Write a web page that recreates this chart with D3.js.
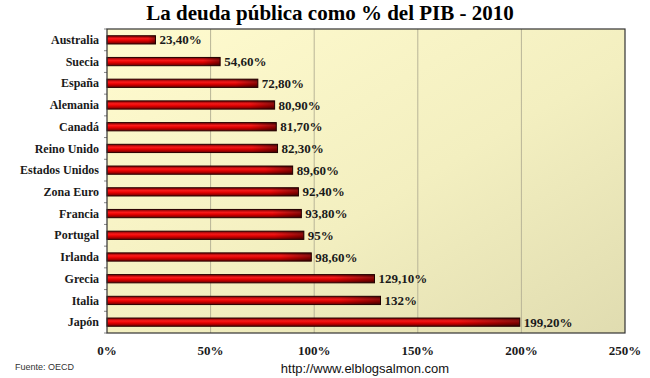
<!DOCTYPE html>
<meta charset="utf-8">
<style>
  body { margin: 0; background: #fff; }
  .serif { font-family: "Liberation Serif", "DejaVu Serif", serif; font-weight: bold; }
</style>
<body>
<div id="chart"></div>
<script src="https://d3js.org/d3.v7.min.js"></script>
<script>
  const countries = ["Australia", "Suecia", "España", "Alemania", "Canadá", "Reino Unido",
    "Estados Unidos", "Zona Euro", "Francia", "Portugal", "Irlanda", "Grecia", "Italia", "Japón"];
  const debt = [23.4, 54.6, 72.8, 80.9, 81.7, 82.3, 89.6, 92.4, 93.8, 95, 98.6, 129.1, 132, 199.2];
  const debtLabels = ["23,40%", "54,60%", "72,80%", "80,90%", "81,70%", "82,30%", "89,60%",
    "92,40%", "93,80%", "95%", "98,60%", "129,10%", "132%", "199,20%"];
  const ticks = [0, 50, 100, 150, 200, 250];

  const width = 650, height = 378;
  const plotL = 107, plotR = 625, plotT = 29, plotB = 333;

  const svg = d3.select("#chart").append("svg")
    .attr("width", width)
    .attr("height", height);

  const defs = svg.append("defs");

  // plot background: pale yellow fading to olive at bottom right
  const bg = defs.append("linearGradient").attr("id", "bg")
    .attr("x1", "0").attr("y1", "0").attr("x2", "1").attr("y2", "1");
  bg.append("stop").attr("offset", "0%").attr("stop-color", "#fffbcf");
  bg.append("stop").attr("offset", "55%").attr("stop-color", "#f3efc0");
  bg.append("stop").attr("offset", "100%").attr("stop-color", "#e0dcb0");

  // bar: dark red edges, bright red middle
  const barG = defs.append("linearGradient").attr("id", "bar")
    .attr("x1", "0").attr("y1", "0").attr("x2", "0").attr("y2", "1");
  barG.append("stop").attr("offset", "0%").attr("stop-color", "#7a0000");
  barG.append("stop").attr("offset", "35%").attr("stop-color", "#ff1a1a");
  barG.append("stop").attr("offset", "60%").attr("stop-color", "#e60000");
  barG.append("stop").attr("offset", "100%").attr("stop-color", "#6a0000");

  // darker right tip
  const tip = defs.append("linearGradient").attr("id", "tip")
    .attr("x1", "0").attr("y1", "0").attr("x2", "1").attr("y2", "0");
  tip.append("stop").attr("offset", "0%").attr("stop-color", "#000").attr("stop-opacity", 0);
  tip.append("stop").attr("offset", "85%").attr("stop-color", "#000").attr("stop-opacity", 0.05);
  tip.append("stop").attr("offset", "100%").attr("stop-color", "#000").attr("stop-opacity", 0.45);

  const x = d3.scaleLinear().domain([0, 250]).range([plotL, plotR]);
  const y = d3.scaleBand().domain(countries).range([plotT, plotB]).paddingInner(0.62).paddingOuter(0.31);

  // title
  svg.append("text")
    .attr("class", "serif")
    .attr("x", 330).attr("y", 20)
    .attr("text-anchor", "middle")
    .style("font-size", "21px")
    .text("La deuda pública como % del PIB - 2010");

  svg.append("rect")
    .attr("x", plotL).attr("y", plotT)
    .attr("width", plotR - plotL).attr("height", plotB - plotT)
    .attr("fill", "url(#bg)");

  // gridlines
  svg.selectAll("line.grid")
    .data(ticks.slice(1, -1))
    .join("line")
    .attr("class", "grid")
    .attr("x1", d => x(d)).attr("x2", d => x(d))
    .attr("y1", plotT).attr("y2", plotB)
    .attr("stroke", "#b8b497")
    .attr("stroke-width", 1);

  // bars
  const bars = svg.selectAll("g.bar")
    .data(countries)
    .join("g")
    .attr("class", "bar");

  bars.append("rect")
    .attr("x", x(0))
    .attr("y", d => y(d))
    .attr("width", (d, i) => x(debt[i]) - x(0))
    .attr("height", y.bandwidth())
    .attr("fill", "url(#bar)")
    .attr("stroke", "#2a0000")
    .attr("stroke-width", 1);

  bars.append("rect")
    .attr("x", x(0))
    .attr("y", d => y(d))
    .attr("width", (d, i) => x(debt[i]) - x(0))
    .attr("height", y.bandwidth())
    .attr("fill", "url(#tip)");

  bars.append("text")
    .attr("class", "serif")
    .attr("x", (d, i) => x(debt[i]) + 4)
    .attr("y", d => y(d) + y.bandwidth() / 2)
    .attr("dy", "0.35em")
    .style("font-size", "13px")
    .attr("fill", "#1a1a1a")
    .text((d, i) => debtLabels[i]);

  // category labels
  svg.selectAll("text.cat")
    .data(countries)
    .join("text")
    .attr("class", "cat serif")
    .attr("x", plotL - 8)
    .attr("y", d => y(d) + y.bandwidth() / 2)
    .attr("dy", "0.35em")
    .attr("text-anchor", "end")
    .style("font-size", "12px")
    .attr("fill", "#1a1a1a")
    .text(d => d);

  // small category ticks on the left axis
  const step = (plotB - plotT) / countries.length;
  svg.selectAll("line.ytick")
    .data(d3.range(countries.length + 1))
    .join("line")
    .attr("class", "ytick")
    .attr("x1", plotL - 3).attr("x2", plotL)
    .attr("y1", d => plotT + d * step).attr("y2", d => plotT + d * step)
    .attr("stroke", "#888");

  // plot border
  svg.append("rect")
    .attr("x", plotL).attr("y", plotT)
    .attr("width", plotR - plotL).attr("height", plotB - plotT)
    .attr("fill", "none")
    .attr("stroke", "#333")
    .attr("stroke-width", 1.2);

  // x tick labels
  svg.selectAll("text.xtick")
    .data(ticks)
    .join("text")
    .attr("class", "xtick serif")
    .attr("x", d => x(d))
    .attr("y", 355)
    .attr("text-anchor", "middle")
    .style("font-size", "13px")
    .attr("fill", "#1a1a1a")
    .text(d => d + "%");

  svg.append("text")
    .attr("x", 15).attr("y", 370)
    .style("font-family", "'Liberation Sans', Arial, sans-serif")
    .style("font-size", "9px")
    .attr("fill", "#333")
    .text("Fuente: OECD");

  svg.append("text")
    .attr("x", 365).attr("y", 373)
    .attr("text-anchor", "middle")
    .style("font-family", "'Liberation Sans', Arial, sans-serif")
    .style("font-size", "13px")
    .attr("fill", "#111")
    .text("http://www.elblogsalmon.com");
</script>
</body>
</html>
